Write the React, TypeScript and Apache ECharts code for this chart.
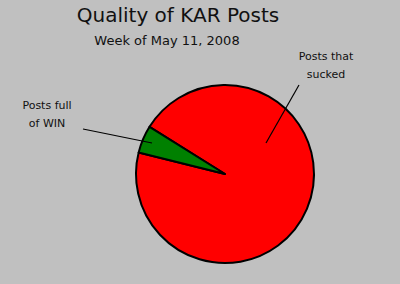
import React, { useEffect, useRef } from "react";
import * as echarts from "echarts";

const categories = ["Posts that\nsucked", "Posts full\nof WIN"];
const values = [95, 5];
const colors = ["#ff0000", "#008000"];
const titleText = "Quality of KAR Posts";
const subtitleText = "Week of May 11, 2008";

const FONT = '"Comic Sans MS", "DejaVu Sans", sans-serif';

const labelSpots: { x: number; y: number; line: number[][] }[] = [
  { x: 326, y: 65, line: [[299, 85], [266, 143]] },
  { x: 47, y: 114, line: [[83, 129], [152, 143]] },
];

export default function App() {
  const ref = useRef<HTMLDivElement>(null);
  useEffect(() => {
    document.body.style.margin = "0";
    const chart = echarts.init(ref.current!, undefined, { renderer: "svg" });
    chart.setOption({
      animation: false,
      backgroundColor: "#c0c0c0",
      title: [
        {
          text: titleText,
          left: 173,
          top: 0,
          textAlign: "center",
          textStyle: { fontFamily: FONT, fontSize: 20, fontWeight: "normal", color: "#111" },
        },
        {
          text: subtitleText,
          left: 162,
          top: 29,
          textAlign: "center",
          textStyle: { fontFamily: FONT, fontSize: 13, fontWeight: "normal", color: "#111" },
        },
      ],
      graphic: labelSpots.map((s) => ({
        type: "line",
        z: 10,
        silent: true,
        shape: { x1: s.line[0][0], y1: s.line[0][1], x2: s.line[1][0], y2: s.line[1][1] },
        style: { stroke: "#000", lineWidth: 1.2 },
      })),
      series: [
        {
          type: "pie",
          center: [225, 174],
          radius: 89,
          startAngle: 148,
          clockwise: true,
          data: categories.map((c, i) => ({
            name: c,
            value: values[i],
            itemStyle: { color: colors[i] },
          })),
          itemStyle: { borderColor: "#000", borderWidth: 2 },
          label: {
            show: true,
            formatter: "{b}",
            fontFamily: FONT,
            fontSize: 11,
            lineHeight: 18,
            color: "#111",
            align: "center",
            overflow: "none",
            width: 100,
          },
          labelLine: { show: false },
          labelLayout: (params: any) => {
            const s = labelSpots[params.dataIndex];
            return {
              x: s.x,
              y: s.y,
              align: "center",
              verticalAlign: "middle",
            };
          },
          emphasis: { disabled: true },
        },
      ],
    });
    return () => chart.dispose();
  }, []);
  return <div ref={ref} style={{ width: 400, height: 284 }} />;
}
